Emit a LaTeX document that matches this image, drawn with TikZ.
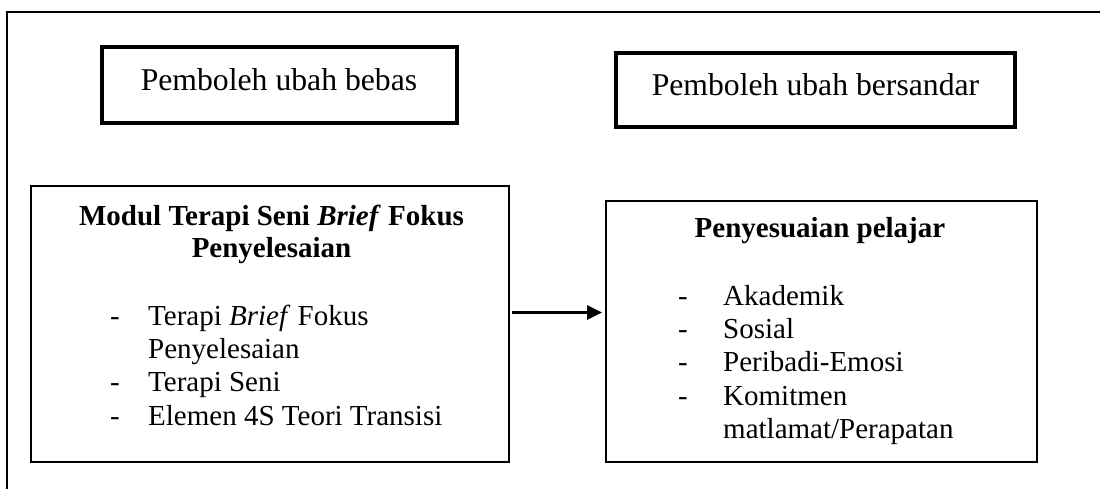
\documentclass[tikz,border=0pt]{standalone}
\usepackage{fontspec}
\setmainfont{Liberation Serif}
\usetikzlibrary{arrows.meta}
\begin{document}
\begin{tikzpicture}[x=1pt,y=-1pt,
  frame/.style={draw, line width=2pt},
  headbox/.style={draw, line width=4pt, inner sep=0pt},
  mainbox/.style={draw, line width=2pt, inner sep=0pt},
  headtext/.style={font=\fontsize{31.7}{36}\selectfont, inner sep=0pt, anchor=base},
  titletext/.style={font=\fontsize{29}{33.35}\selectfont\bfseries, inner sep=0pt, anchor=base},
  listtext/.style={font=\fontsize{29}{33.35}\selectfont, inner sep=0pt, anchor=base west},
  link/.style={line width=3pt, -{Triangle[length=15pt,width=14pt]}, shorten <=2pt, shorten >=3pt}
]
\useasboundingbox (0,0) rectangle (1100,488);
\clip (0,0) rectangle (1100,488);
\draw[frame] (7,500) -- (7,12) -- (1110,12);
% variable boxes
\node[headbox, minimum width=355pt, minimum height=76pt] (indep) at (279.5,85) {};
\node[headtext] (indeplabel) at (279,90) {Pemboleh ubah bebas};
\node[headbox, minimum width=399pt, minimum height=74pt] (dep) at (815.5,90) {};
\node[headtext] (deplabel) at (815.5,95) {Pemboleh ubah bersandar};
% main boxes
\node[mainbox, minimum width=478pt, minimum height=276pt] (lbox) at (270,324) {};
\node[mainbox, minimum width=431pt, minimum height=261pt] (rbox) at (821.5,331.5) {};
% left contents
\node[titletext] (ltitleA) at (271.5,225) {Modul Terapi Seni \textit{Brief} Fokus};
\node[titletext] (ltitleB) at (271.5,257) {Penyelesaian};
\node[listtext] (llist) at (110,325) {\begin{tabular}[t]{@{}p{38pt}@{}l@{}}
- & Terapi \textit{Brief} Fokus\\
  & Penyelesaian\\
- & Terapi Seni\\
- & Elemen 4S Teori Transisi
\end{tabular}};
% right contents
\node[titletext] (rtitle) at (820,237) {Penyesuaian pelajar};
\node[listtext] (rlist) at (678,305) {\begin{tabular}[t]{@{}p{45pt}@{}l@{}}
- & Akademik\\
- & Sosial\\
- & Peribadi-Emosi\\
- & Komitmen\\
  & matlamat/Perapatan
\end{tabular}};
% connector
\draw[link] ([yshift=11.5pt]lbox.east) -- ([yshift=11.5pt]lbox.east -| rbox.west);
\end{tikzpicture}
\end{document}
